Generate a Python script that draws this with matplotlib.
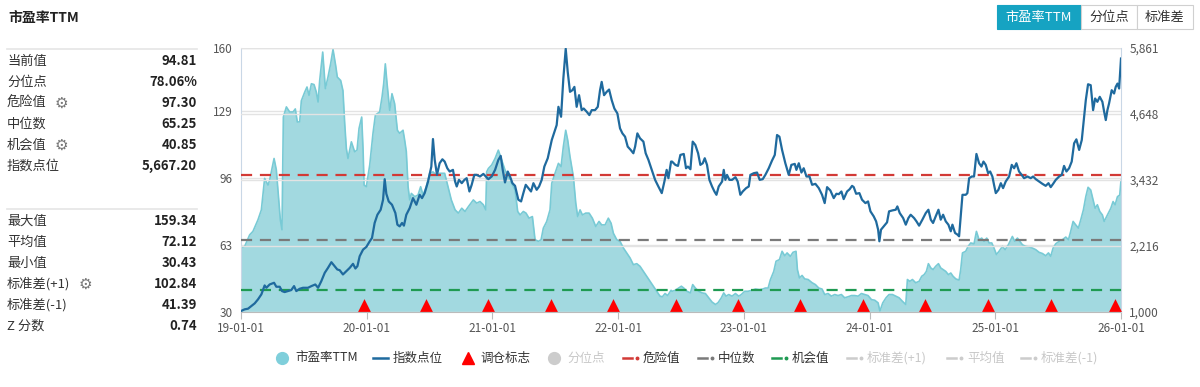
import matplotlib
matplotlib.use('Agg')
import matplotlib.pyplot as plt
from matplotlib.lines import Line2D
from matplotlib.patches import Rectangle
import matplotlib.transforms as mtransforms
from matplotlib.ticker import FuncFormatter

plt.rcParams['font.family'] = ['Noto Sans CJK SC', 'DejaVu Sans']

# ---------------- data ----------------
pe_t = [2019.000, 2019.029, 2019.069, 2019.095, 2019.135, 2019.162, 2019.188, 2019.215, 2019.228, 2019.263,
        2019.281, 2019.294, 2019.313, 2019.326, 2019.337, 2019.361, 2019.387, 2019.414, 2019.432, 2019.448,
        2019.467, 2019.480, 2019.507, 2019.525, 2019.541, 2019.560, 2019.581, 2019.599, 2019.613, 2019.626,
        2019.650, 2019.671, 2019.692, 2019.713, 2019.732, 2019.753, 2019.766, 2019.793, 2019.811, 2019.825,
        2019.838, 2019.851, 2019.878, 2019.904, 2019.923, 2019.939, 2019.960, 2019.971, 2019.979, 2019.997,
        2020.024, 2020.050, 2020.069, 2020.103, 2020.122, 2020.135, 2020.148, 2020.162, 2020.183, 2020.201,
        2020.222, 2020.244, 2020.262, 2020.289, 2020.302, 2020.315, 2020.329, 2020.342, 2020.355, 2020.382,
        2020.408, 2020.429, 2020.448, 2020.474, 2020.501, 2020.527, 2020.554, 2020.580, 2020.620, 2020.647,
        2020.673, 2020.703, 2020.729, 2020.756, 2020.782, 2020.809, 2020.848, 2020.875, 2020.901, 2020.928,
        2020.947, 2020.954, 2020.968, 2020.994, 2021.021, 2021.047, 2021.074, 2021.100, 2021.127, 2021.153,
        2021.180, 2021.201, 2021.220, 2021.246, 2021.267, 2021.291, 2021.318, 2021.339, 2021.366, 2021.387,
        2021.405, 2021.432, 2021.458, 2021.472, 2021.498, 2021.525, 2021.546, 2021.564, 2021.583, 2021.599,
        2021.617, 2021.644, 2021.663, 2021.678, 2021.697, 2021.716, 2021.742, 2021.769, 2021.795, 2021.822,
        2021.848, 2021.869, 2021.896, 2021.922, 2021.944, 2021.962, 2021.989, 2022.015, 2022.042, 2022.068,
        2022.095, 2022.121, 2022.148, 2022.174, 2022.201, 2022.227, 2022.254, 2022.280, 2022.307, 2022.333,
        2022.352, 2022.373, 2022.394, 2022.421, 2022.429, 2022.455, 2022.482, 2022.503, 2022.522, 2022.548,
        2022.575, 2022.593, 2022.614, 2022.641, 2022.668, 2022.694, 2022.721, 2022.747, 2022.774, 2022.795,
        2022.821, 2022.840, 2022.858, 2022.880, 2022.906, 2022.933, 2022.959, 2022.980, 2023.007, 2023.033,
        2023.065, 2023.092, 2023.124, 2023.150, 2023.171, 2023.193, 2023.211, 2023.238, 2023.256, 2023.283,
        2023.304, 2023.325, 2023.344, 2023.370, 2023.391, 2023.415, 2023.426, 2023.442, 2023.463, 2023.484,
        2023.511, 2023.543, 2023.569, 2023.596, 2023.622, 2023.643, 2023.670, 2023.696, 2023.723, 2023.749,
        2023.776, 2023.802, 2023.829, 2023.856, 2023.882, 2023.909, 2023.935, 2023.962, 2023.988, 2024.015,
        2024.041, 2024.068, 2024.082, 2024.105, 2024.131, 2024.155, 2024.182, 2024.208, 2024.235, 2024.261,
        2024.288, 2024.301, 2024.320, 2024.341, 2024.367, 2024.394, 2024.415, 2024.434, 2024.452, 2024.468,
        2024.487, 2024.505, 2024.526, 2024.548, 2024.566, 2024.585, 2024.606, 2024.627, 2024.646, 2024.664,
        2024.686, 2024.712, 2024.725, 2024.739, 2024.765, 2024.784, 2024.805, 2024.831, 2024.850, 2024.871,
        2024.892, 2024.911, 2024.932, 2024.951, 2024.972, 2024.990, 2025.009, 2025.030, 2025.057, 2025.078,
        2025.104, 2025.123, 2025.136, 2025.155, 2025.176, 2025.195, 2025.216, 2025.242, 2025.269, 2025.295,
        2025.322, 2025.348, 2025.375, 2025.401, 2025.423, 2025.441, 2025.460, 2025.481, 2025.508, 2025.534,
        2025.561, 2025.582, 2025.600, 2025.619, 2025.640, 2025.661, 2025.680, 2025.701, 2025.720, 2025.738,
        2025.759, 2025.778, 2025.794, 2025.812, 2025.831, 2025.852, 2025.866, 2025.879, 2025.900, 2025.919,
        2025.937, 2025.953, 2025.972, 2025.990, 2026.000]
pe_v = [61.5, 62.3, 68.0, 69.7, 75.4, 80.3, 95.8, 92.5, 95.0, 105.6,
        100.0, 90.0, 75.4, 70.5, 126.0, 131.0, 128.5, 128.5, 130.0, 123.6,
        123.6, 134.0, 138.3, 140.8, 136.7, 142.4, 142.0, 138.3, 133.4, 144.0,
        158.0, 140.0, 145.7, 152.2, 159.3, 151.4, 145.7, 144.0, 139.0, 122.8,
        110.5, 105.6, 113.8, 108.9, 109.7, 120.4, 126.0, 110.0, 92.5, 91.7,
        102.4, 118.0, 127.0, 128.5, 135.9, 142.4, 152.2, 142.4, 129.3, 137.5,
        132.6, 119.5, 118.0, 119.5, 114.6, 109.0, 91.7, 85.2, 88.4, 86.8,
        87.6, 91.7, 87.6, 91.7, 98.3, 99.0, 97.4, 98.3, 98.3, 91.7,
        85.2, 80.3, 78.7, 81.1, 79.5, 81.9, 85.2, 83.6, 84.4, 82.8,
        80.3, 99.0, 100.7, 102.4, 105.6, 109.7, 104.8, 99.9, 96.6, 93.4,
        90.1, 79.5, 77.8, 79.5, 78.7, 76.2, 77.0, 65.6, 64.8, 65.6,
        71.3, 74.6, 80.3, 93.4, 98.3, 103.2, 101.6, 111.4, 119.5, 114.6,
        106.5, 96.6, 83.6, 77.0, 80.3, 77.8, 78.7, 78.7, 76.2, 72.1,
        74.6, 72.9, 72.9, 76.2, 73.7, 68.8, 65.6, 64.8, 61.5, 59.1,
        56.6, 53.3, 53.8, 52.5, 50.0, 47.6, 45.1, 42.7, 40.2, 37.8,
        37.5, 39.1, 38.1, 40.7, 40.2, 40.7, 41.8, 42.7, 41.8, 40.2,
        39.4, 43.5, 41.8, 40.2, 39.4, 39.1, 37.0, 34.9, 33.7, 34.6,
        37.0, 39.4, 37.8, 38.6, 37.8, 39.1, 37.8, 38.6, 40.2, 40.2,
        40.7, 41.3, 41.0, 41.3, 41.8, 41.8, 45.9, 50.0, 55.0, 55.8,
        59.9, 57.7, 59.1, 57.4, 59.4, 59.9, 50.9, 46.8, 48.0, 46.3,
        46.0, 44.4, 43.5, 41.8, 41.3, 38.6, 39.1, 37.8, 38.6, 38.1,
        38.6, 37.0, 37.5, 38.1, 38.1, 37.8, 39.1, 38.6, 38.1, 36.1,
        35.8, 34.5, 30.4, 34.5, 37.0, 38.6, 38.6, 37.8, 37.0, 35.3,
        33.7, 46.0, 45.1, 46.0, 44.4, 45.1, 47.6, 48.4, 50.0, 53.8,
        51.7, 50.9, 52.5, 53.8, 51.7, 50.9, 50.0, 48.4, 49.2, 47.6,
        46.3, 45.7, 50.9, 59.1, 59.9, 62.3, 64.0, 63.6, 69.7, 65.6,
        66.4, 64.8, 66.4, 64.0, 64.0, 61.5, 58.3, 59.9, 62.3, 60.7,
        63.1, 65.6, 67.2, 64.8, 66.4, 64.8, 63.1, 62.3, 62.0, 61.5,
        60.7, 59.4, 58.8, 57.7, 59.1, 57.4, 61.5, 63.6, 64.8, 65.6,
        66.9, 65.6, 69.7, 74.6, 72.9, 71.3, 75.4, 80.3, 86.8, 91.4,
        90.1, 85.2, 81.1, 82.8, 79.5, 77.8, 74.6, 76.2, 78.7, 81.1,
        84.4, 82.8, 86.8, 87.6, 94.81]

idx_t = [2019.000, 2019.029, 2019.056, 2019.082, 2019.109, 2019.135, 2019.162, 2019.188, 2019.202, 2019.228,
         2019.263, 2019.281, 2019.308, 2019.326, 2019.347, 2019.374, 2019.400, 2019.422, 2019.440, 2019.467,
         2019.493, 2019.533, 2019.560, 2019.591, 2019.613, 2019.639, 2019.666, 2019.692, 2019.719, 2019.745,
         2019.766, 2019.785, 2019.811, 2019.838, 2019.865, 2019.891, 2019.910, 2019.926, 2019.944, 2019.971,
         2019.997, 2020.024, 2020.042, 2020.063, 2020.085, 2020.111, 2020.130, 2020.143, 2020.156, 2020.175,
         2020.201, 2020.228, 2020.244, 2020.262, 2020.281, 2020.296, 2020.315, 2020.342, 2020.368, 2020.395,
         2020.421, 2020.440, 2020.461, 2020.488, 2020.514, 2020.527, 2020.541, 2020.559, 2020.580, 2020.602,
         2020.620, 2020.641, 2020.660, 2020.686, 2020.703, 2020.716, 2020.734, 2020.756, 2020.777, 2020.795,
         2020.817, 2020.835, 2020.856, 2020.875, 2020.901, 2020.928, 2020.947, 2020.968, 2020.994, 2021.021,
         2021.047, 2021.066, 2021.082, 2021.100, 2021.122, 2021.140, 2021.159, 2021.180, 2021.206, 2021.228,
         2021.246, 2021.265, 2021.286, 2021.307, 2021.326, 2021.352, 2021.371, 2021.392, 2021.413, 2021.440,
         2021.472, 2021.498, 2021.511, 2021.525, 2021.546, 2021.564, 2021.583, 2021.599, 2021.617, 2021.636,
         2021.652, 2021.670, 2021.689, 2021.710, 2021.726, 2021.750, 2021.771, 2021.790, 2021.816, 2021.838,
         2021.856, 2021.869, 2021.888, 2021.909, 2021.928, 2021.949, 2021.970, 2021.994, 2022.015, 2022.034,
         2022.055, 2022.076, 2022.100, 2022.121, 2022.135, 2022.153, 2022.174, 2022.201, 2022.219, 2022.241,
         2022.267, 2022.294, 2022.320, 2022.347, 2022.368, 2022.386, 2022.400, 2022.421, 2022.429, 2022.455,
         2022.476, 2022.495, 2022.522, 2022.540, 2022.555, 2022.575, 2022.593, 2022.614, 2022.636, 2022.654,
         2022.673, 2022.689, 2022.707, 2022.726, 2022.747, 2022.766, 2022.782, 2022.800, 2022.827, 2022.840,
         2022.853, 2022.866, 2022.885, 2022.906, 2022.933, 2022.951, 2022.972, 2022.991, 2023.018, 2023.039,
         2023.052, 2023.079, 2023.105, 2023.126, 2023.150, 2023.171, 2023.198, 2023.224, 2023.246, 2023.264,
         2023.283, 2023.304, 2023.330, 2023.357, 2023.378, 2023.405, 2023.418, 2023.437, 2023.458, 2023.476,
         2023.498, 2023.522, 2023.543, 2023.569, 2023.596, 2023.622, 2023.643, 2023.662, 2023.688, 2023.715,
         2023.736, 2023.755, 2023.776, 2023.794, 2023.821, 2023.842, 2023.861, 2023.874, 2023.893, 2023.919,
         2023.940, 2023.967, 2023.988, 2024.007, 2024.033, 2024.052, 2024.068, 2024.078, 2024.091, 2024.113,
         2024.139, 2024.155, 2024.182, 2024.208, 2024.221, 2024.240, 2024.267, 2024.288, 2024.309, 2024.327,
         2024.354, 2024.373, 2024.394, 2024.420, 2024.447, 2024.468, 2024.487, 2024.505, 2024.526, 2024.548,
         2024.566, 2024.585, 2024.606, 2024.627, 2024.646, 2024.659, 2024.680, 2024.699, 2024.712, 2024.725,
         2024.739, 2024.765, 2024.778, 2024.792, 2024.813, 2024.831, 2024.850, 2024.871, 2024.890, 2024.906,
         2024.924, 2024.943, 2024.959, 2024.977, 2024.990, 2025.004, 2025.025, 2025.044, 2025.062, 2025.083,
         2025.110, 2025.131, 2025.150, 2025.168, 2025.189, 2025.210, 2025.229, 2025.256, 2025.282, 2025.301,
         2025.322, 2025.348, 2025.375, 2025.401, 2025.423, 2025.441, 2025.460, 2025.481, 2025.508, 2025.529,
         2025.547, 2025.566, 2025.587, 2025.608, 2025.627, 2025.645, 2025.667, 2025.688, 2025.701, 2025.720,
         2025.738, 2025.759, 2025.778, 2025.794, 2025.812, 2025.831, 2025.852, 2025.866, 2025.879, 2025.892,
         2025.905, 2025.926, 2025.945, 2025.958, 2025.972, 2025.985, 2026.000]
idx_v = [1018, 1049, 1061, 1110, 1159, 1232, 1324, 1489, 1446, 1507,
         1538, 1465, 1465, 1385, 1367, 1385, 1404, 1477, 1385, 1428,
         1446, 1446, 1477, 1507, 1446, 1569, 1721, 1813, 1917, 1844,
         1783, 1770, 1691, 1752, 1813, 1887, 1801, 1844, 2027, 2149,
         2198, 2302, 2363, 2639, 2791, 2883, 3067, 3446, 3177, 3036,
         2975, 2822, 2608, 2577, 2639, 2590, 2791, 2914, 3097, 2975,
         3158, 3097, 3189, 3403, 3678, 4185, 3800, 3525, 3739, 3812,
         3770, 3647, 3586, 3617, 3403, 3311, 3433, 3372, 3433, 3464,
         3219, 3342, 3525, 3525, 3495, 3543, 3495, 3446, 3495, 3617,
         3800, 3874, 3617, 3385, 3586, 3495, 3372, 3323, 3067, 3036,
         3189, 3342, 3281, 3219, 3372, 3250, 3311, 3433, 3678, 3831,
         4167, 4350, 4442, 4778, 4595, 5298, 5848, 5420, 5054, 5084,
         5145, 4778, 4992, 4717, 4747, 4687, 4626, 4717, 4717, 4778,
         5084, 5237, 4992, 5054, 5096, 4900, 4747, 4656, 4381, 4289,
         4228, 4045, 3984, 3923, 4045, 4289, 4198, 4137, 3923, 3800,
         3617, 3433, 3311, 3189, 3403, 3617, 3464, 3770, 3770, 3709,
         3690, 3892, 3910, 3647, 3678, 3629, 4137, 4076, 3923, 3709,
         3739, 3831, 3709, 3433, 3311, 3219, 3158, 3311, 3403, 3617,
         3433, 3525, 3433, 3433, 3482, 3403, 3158, 3219, 3281, 3311,
         3525, 3556, 3568, 3433, 3446, 3525, 3647, 3788, 3892, 4259,
         4228, 3984, 3739, 3525, 3709, 3727, 3617, 3739, 3568, 3647,
         3495, 3495, 3342, 3360, 3281, 3158, 3005, 3299, 3238, 3097,
         3177, 3170, 3219, 3079, 3219, 3262, 3323, 3299, 3177, 3189,
         3067, 3005, 3036, 2853, 2761, 2669, 2516, 2302, 2516, 2577,
         2651, 2853, 2871, 2883, 2944, 2822, 2730, 2608, 2730, 2791,
         2730, 2669, 2590, 2700, 2822, 2883, 2700, 2639, 2761, 2883,
         2700, 2791, 2669, 2608, 2486, 2608, 2455, 2425, 2394, 2761,
         3158, 3158, 3189, 3464, 3495, 3495, 3910, 3739, 3678, 3770,
         3709, 3556, 3587, 3495, 3342, 3189, 3250, 3372, 3281, 3403,
         3495, 3709, 3647, 3739, 3587, 3525, 3464, 3495, 3464, 3495,
         3446, 3403, 3360, 3323, 3372, 3299, 3360, 3433, 3495, 3525,
         3690, 3587, 3647, 3770, 4106, 4179, 3984, 4167, 4473, 4901,
         5194, 5176, 4717, 4931, 4870, 4962, 4870, 4687, 4534, 4717,
         4840, 5084, 5023, 5145, 5206, 5115, 5667.2]

rebalance_t = [2019.979, 2020.472, 2020.965, 2021.466, 2021.959, 2022.461, 2022.954,
               2023.447, 2023.948, 2024.441, 2024.943, 2025.444, 2025.953]

danger, median, chance = 97.30, 65.25, 40.85
pe_ticks = [30, 63, 96, 129, 160]
idx_ticks = [1000, 2216, 3432, 4648, 5861]
year_ticks = [2019, 2020, 2021, 2022, 2023, 2024, 2025, 2026]
year_labels = ['19-01-01', '20-01-01', '21-01-01', '22-01-01', '23-01-01', '24-01-01', '25-01-01', '26-01-01']

stats_top = [('当前值', '94.81', False), ('分位点', '78.06%', False), ('危险值', '97.30', True),
             ('中位数', '65.25', False), ('机会值', '40.85', True), ('指数点位', '5,667.20', False)]
stats_bot = [('最大值', '159.34', False), ('平均值', '72.12', False), ('最小值', '30.43', False),
             ('标准差(+1)', '102.84', True), ('标准差(-1)', '41.39', False), ('Z 分数', '0.74', False)]

# ---------------- style ----------------
C_AREA = '#a2d9e0'
C_AREA_EDGE = '#78cad5'
C_IDX = '#1f6a9e'
C_RED = '#d23a36'
C_GRAY = '#7a7a7a'
C_GREEN = '#1f9a52'
C_TEAL = '#16a3c2'

W, H = 1200, 387
fig = plt.figure(figsize=(W / 100, H / 100), dpi=100)


def fx(x):
    return x / W


def fy(y):
    return 1 - y / H


ax = fig.add_axes([fx(241), fy(312), fx(1121) - fx(241), fy(48) - fy(312)])
ax2 = ax.twinx()

ax.set_xlim(2019, 2026)
ax.set_ylim(30, 160)
ax2.set_ylim(1000, 5861)

# grid lines for both axes
for v in pe_ticks:
    ax.axhline(v, color='#e3e3e3', lw=1.0, zorder=0)
for v in idx_ticks:
    ax2.axhline(v, color='#e3e3e3', lw=1.0, zorder=0)

ax.fill_between(pe_t, pe_v, 30, color=C_AREA, lw=0, zorder=1)
ax.plot(pe_t, pe_v, color=C_AREA_EDGE, lw=1.2, zorder=2)

ax.axhline(danger, color=C_RED, lw=1.6, ls=(0, (5, 3.5)), zorder=3)
ax.axhline(median, color=C_GRAY, lw=1.6, ls=(0, (5, 3.5)), zorder=3)
ax.axhline(chance, color=C_GREEN, lw=1.6, ls=(0, (5, 3.5)), zorder=3)

ax2.plot(idx_t, idx_v, color=C_IDX, lw=1.6, zorder=4)

trans = mtransforms.blended_transform_factory(ax2.transData, ax2.transAxes)
ax2.scatter(rebalance_t, [0.028] * len(rebalance_t), marker='^', s=85, color='#ff0000',
            transform=trans, zorder=6, clip_on=False, linewidths=0)

ax.set_yticks(pe_ticks)
ax.set_yticklabels([str(v) for v in pe_ticks])
ax2.set_yticks(idx_ticks)
ax2.yaxis.set_major_formatter(FuncFormatter(lambda v, p: f'{int(round(v)):,}'))
ax.set_xticks(year_ticks)
ax.set_xticklabels(year_labels)

for a in (ax, ax2):
    a.tick_params(axis='y', length=0, labelsize=8.5, labelcolor='#555555', pad=6)
    for s in a.spines.values():
        s.set_visible(False)
ax.tick_params(axis='x', length=5, color='#bbbbbb', labelsize=8.5, labelcolor='#555555', pad=2)
ax.spines['bottom'].set_visible(True)
ax.spines['bottom'].set_color('#bbbbbb')
ax.spines['left'].set_visible(True)
ax.spines['left'].set_color('#c9d7e6')
ax2.spines['right'].set_visible(True)
ax2.spines['right'].set_color('#c9d7e6')
ax.set_facecolor('none')
ax2.set_facecolor('none')

# ---------------- left panel ----------------
fig.text(fx(8), fy(18), '市盈率TTM', fontsize=10, fontweight='bold', color='#222222', va='center', ha='left')
fig.add_artist(Line2D([fx(7), fx(197)], [fy(49), fy(49)], color='#e5e5e5', lw=1.2))
fig.add_artist(Line2D([fx(7), fx(197)], [fy(209), fy(209)], color='#e5e5e5', lw=1.2))

gear_x = {'危险值': 61, '机会值': 61, '标准差(+1)': 85}
for block, y0 in ((stats_top, 61), (stats_bot, 221)):
    for i, (lab, val, gear) in enumerate(block):
        y = y0 + i * 21
        fig.text(fx(7), fy(y), lab, fontsize=9.5, color='#333333', va='center', ha='left')
        fig.text(fx(197), fy(y), val, fontsize=9.5, color='#222222', fontweight='bold', va='center', ha='right')
        if gear:
            fig.text(fx(gear_x[lab]), fy(y), '⚙', fontsize=11, color='#777777',
                     va='center', ha='center', family='DejaVu Sans')

# ---------------- top-right buttons ----------------
btns = [('市盈率TTM', 997, 1081, True), ('分位点', 1081, 1137, False), ('标准差', 1137, 1193, False)]
for lab, x0, x1, active in btns:
    fig.add_artist(Rectangle((fx(x0), fy(29)), fx(x1) - fx(x0), fy(5) - fy(29),
                             facecolor=C_TEAL if active else 'white',
                             edgecolor=C_TEAL if active else '#d0d0d0', lw=0.8))
    fig.text(fx((x0 + x1) / 2), fy(17.5), lab, fontsize=9.5, color='white' if active else '#333333',
             va='center', ha='center')

# ---------------- legend ----------------
ly = fy(358)
leg_txt_kw = dict(fontsize=9, va='center', ha='left')
fig.add_artist(Line2D([fx(282)], [ly], marker='o', ms=8.5, color='#7fcfdb', lw=0))
fig.text(fx(295), ly, '市盈率TTM', color='#333333', **leg_txt_kw)
fig.add_artist(Line2D([fx(373), fx(388)], [ly, ly], color=C_IDX, lw=1.8))
fig.text(fx(393), ly, '指数点位', color='#333333', **leg_txt_kw)
fig.add_artist(Line2D([fx(468)], [ly], marker='^', ms=8.5, color='#ff0000', lw=0))
fig.text(fx(480), ly, '调仓标志', color='#333333', **leg_txt_kw)
fig.add_artist(Line2D([fx(554)], [ly], marker='o', ms=8.5, color='#cccccc', lw=0))
fig.text(fx(567), ly, '分位点', color='#c8c8c8', **leg_txt_kw)

dash_items = [(623, '危险值', C_RED, '#333333'), (698, '中位数', C_GRAY, '#333333'),
              (772, '机会值', C_GREEN, '#333333'), (847, '标准差(+1)', '#cccccc', '#c8c8c8'),
              (947, '平均值', '#cccccc', '#c8c8c8'), (1021, '标准差(-1)', '#cccccc', '#c8c8c8')]
for x, lab, c, tc in dash_items:
    fig.add_artist(Line2D([fx(x), fx(x + 9)], [ly, ly], color=c, lw=1.8))
    fig.add_artist(Line2D([fx(x + 14)], [ly], marker='o', ms=1.8, color=c, lw=0))
    fig.text(fx(x + 20), ly, lab, color=tc, **leg_txt_kw)

fig.savefig('out.png', dpi=100, facecolor='white')
